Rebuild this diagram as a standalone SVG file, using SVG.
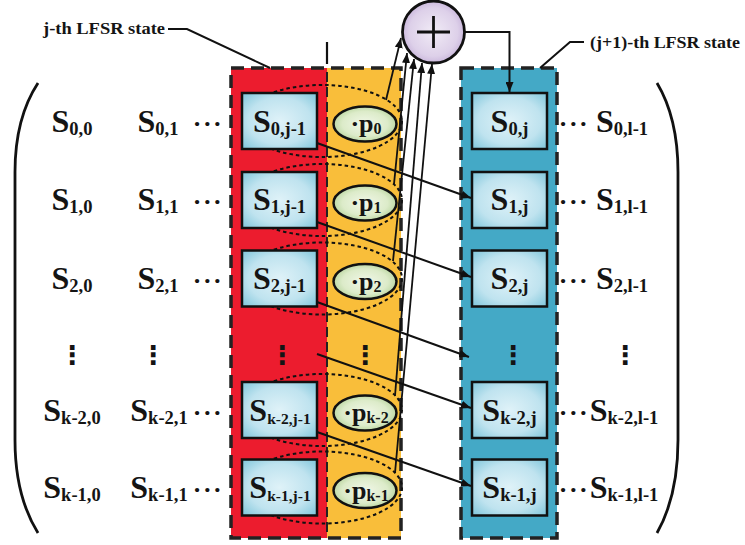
<svg xmlns="http://www.w3.org/2000/svg" width="745" height="545" viewBox="0 0 745 545">
<defs>
  <radialGradient id="gBox" cx="50%" cy="50%" r="70%">
    <stop offset="0" stop-color="#dff2f8"/>
    <stop offset="0.6" stop-color="#bfe3ef"/>
    <stop offset="1" stop-color="#7fc6db"/>
  </radialGradient>
  <radialGradient id="gEll" cx="50%" cy="50%" r="60%">
    <stop offset="0" stop-color="#f1f7e8"/>
    <stop offset="0.6" stop-color="#dcebc9"/>
    <stop offset="1" stop-color="#a9cb8c"/>
  </radialGradient>
  <radialGradient id="gXor" cx="50%" cy="50%" r="60%">
    <stop offset="0" stop-color="#f1ebf6"/>
    <stop offset="0.65" stop-color="#ddd0e9"/>
    <stop offset="1" stop-color="#bba4d2"/>
  </radialGradient>
  <marker id="ah" viewBox="0 0 10 8" refX="10" refY="4" markerWidth="10" markerHeight="8" markerUnits="userSpaceOnUse" orient="auto">
    <path d="M0,0 L10,4 L0,8 Z" fill="#111"/>
  </marker>
</defs>
<style>
  .t{font-family:"Liberation Serif","Times New Roman",serif;font-weight:bold;fill:#141414}
  .S{font-size:32px}
  .sub{font-size:18.5px}
  .subk{font-size:15.5px}
  .p{font-size:26px}
  .psub{font-size:16px}
  .lbl{font-size:17px}
  .dots{font-size:26px;letter-spacing:1.5px}
  .vd{font-family:"DejaVu Sans",sans-serif;font-weight:bold;font-size:26px;fill:#141414}
  .box{fill:url(#gBox);stroke:#111;stroke-width:2.5}
  .ell{fill:url(#gEll);stroke:#111;stroke-width:2.5}
  .dotell{fill:none;stroke:#111;stroke-width:2;stroke-dasharray:3.5 3}
  .panel{stroke:#222;stroke-width:3.5;stroke-dasharray:13 7}
  .conn{fill:none;stroke:#111;stroke-width:2;marker-end:url(#ah)}
  .thin{fill:none;stroke:#111;stroke-width:1.8;marker-end:url(#ah)}
  .lead{fill:none;stroke:#111;stroke-width:2}
  .paren{fill:none;stroke:#111;stroke-width:2.8}
</style>

<!-- matrix brackets -->
<g id="brackets">
  <path class="paren" d="M38,83 Q15,118 15,172 L15,440 Q15,496 38,533"/>
  <path class="paren" d="M657,83 Q678,118 678,172 L678,440 Q678,496 657,533"/>
</g>

<!-- panels -->
<g id="panel-j">
  <rect x="231" y="68" width="96" height="470" fill="#ec1c2e"/>
  <rect x="327" y="68" width="74" height="470" fill="#f9be3a"/>
  <rect x="231" y="68" width="170" height="470" fill="none" class="panel"/>
  <line x1="327" y1="42" x2="327" y2="64" stroke="#111" stroke-width="2.2"/>
  <line x1="327" y1="72" x2="327" y2="536" stroke="#222" stroke-width="2" stroke-dasharray="10 5"/>
</g>
<g id="panel-j1">
  <rect x="461" y="68" width="96" height="470" fill="#44a9c6" class="panel"/>
</g>

<!-- labels -->
<g id="label-j">
  <text class="t lbl" x="43" y="34" textLength="122" lengthAdjust="spacingAndGlyphs">j-th LFSR state</text>
  <path class="lead" d="M168,29 H187 L270,68"/>
</g>
<g id="label-j1">
  <text class="t lbl" x="590" y="48" textLength="150" lengthAdjust="spacingAndGlyphs">(j+1)-th LFSR state</text>
  <path class="lead" d="M584,42 H570 L540,68"/>
</g>

<!-- left matrix columns -->
<g id="col0">
  <text class="t S" x="72" y="132" text-anchor="middle">S<tspan class="sub" dy="3">0,0</tspan></text>
  <text class="t S" x="72" y="210" text-anchor="middle">S<tspan class="sub" dy="3">1,0</tspan></text>
  <text class="t S" x="72" y="289" text-anchor="middle">S<tspan class="sub" dy="3">2,0</tspan></text>
  <text class="vd" x="72" y="364" text-anchor="middle">⋮</text>
  <text class="t S" x="72" y="421" text-anchor="middle">S<tspan class="sub" dy="3">k-2,0</tspan></text>
  <text class="t S" x="72" y="498" text-anchor="middle">S<tspan class="sub" dy="3">k-1,0</tspan></text>
</g>
<g id="col1">
  <text class="t S" x="158" y="132" text-anchor="middle">S<tspan class="sub" dy="3">0,1</tspan></text>
  <text class="t S" x="158" y="210" text-anchor="middle">S<tspan class="sub" dy="3">1,1</tspan></text>
  <text class="t S" x="158" y="289" text-anchor="middle">S<tspan class="sub" dy="3">2,1</tspan></text>
  <text class="vd" x="153" y="364" text-anchor="middle">⋮</text>
  <text class="t S" x="159" y="421" text-anchor="middle">S<tspan class="sub" dy="3">k-2,1</tspan></text>
  <text class="t S" x="159" y="498" text-anchor="middle">S<tspan class="sub" dy="3">k-1,1</tspan></text>
</g>
<g id="dots-left">
  <text class="t dots" x="208" y="132" text-anchor="middle">···</text>
  <text class="t dots" x="208" y="210" text-anchor="middle">···</text>
  <text class="t dots" x="208" y="289" text-anchor="middle">···</text>
  <text class="t dots" x="208" y="421" text-anchor="middle">···</text>
  <text class="t dots" x="208" y="498" text-anchor="middle">···</text>
</g>

<!-- dotted groupings -->
<g id="groupings">
  <ellipse class="dotell" cx="322" cy="121" rx="80" ry="36"/>
  <ellipse class="dotell" cx="322" cy="200" rx="80" ry="36"/>
  <ellipse class="dotell" cx="322" cy="278.5" rx="80" ry="36"/>
  <ellipse class="dotell" cx="322" cy="410" rx="80" ry="36"/>
  <ellipse class="dotell" cx="322" cy="487.5" rx="80" ry="36"/>
</g>

<!-- j-th state cells -->
<g id="s0-j-1"><rect class="box" x="242" y="93" width="75" height="56"/><text class="t S" x="279.5" y="132" text-anchor="middle">S<tspan class="sub" dy="3">0,j-1</tspan></text></g>
<g id="s1-j-1"><rect class="box" x="242" y="172" width="75" height="56"/><text class="t S" x="279.5" y="210" text-anchor="middle">S<tspan class="sub" dy="3">1,j-1</tspan></text></g>
<g id="s2-j-1"><rect class="box" x="242" y="250.5" width="75" height="56"/><text class="t S" x="279.5" y="289" text-anchor="middle">S<tspan class="sub" dy="3">2,j-1</tspan></text></g>
<g id="dots-j-1"><text class="vd" x="282" y="364" text-anchor="middle">⋮</text></g>
<g id="sk2-j-1"><rect class="box" x="242" y="382" width="75" height="56"/><text class="t S" x="280" y="421" text-anchor="middle">S<tspan class="subk" dy="3">k-2,j-1</tspan></text></g>
<g id="sk1-j-1"><rect class="box" x="242" y="459.5" width="75" height="56"/><text class="t S" x="280" y="498" text-anchor="middle">S<tspan class="subk" dy="3">k-1,j-1</tspan></text></g>

<!-- coefficients -->
<g id="p0"><ellipse class="ell" cx="365" cy="124" rx="31.5" ry="17.5"/><text class="t p" x="366" y="132" text-anchor="middle">·p<tspan class="psub" dy="2">0</tspan></text></g>
<g id="p1"><ellipse class="ell" cx="365" cy="203" rx="31.5" ry="17.5"/><text class="t p" x="366" y="211" text-anchor="middle">·p<tspan class="psub" dy="2">1</tspan></text></g>
<g id="p2"><ellipse class="ell" cx="365" cy="281.5" rx="31.5" ry="17.5"/><text class="t p" x="366" y="289.5" text-anchor="middle">·p<tspan class="psub" dy="2">2</tspan></text></g>
<g id="pdots"><text class="vd" x="365" y="364" text-anchor="middle">⋮</text></g>
<g id="pk2"><ellipse class="ell" cx="365" cy="413" rx="31.5" ry="17.5"/><text class="t p" x="366" y="421" text-anchor="middle">·p<tspan class="psub" dy="2">k-2</tspan></text></g>
<g id="pk1"><ellipse class="ell" cx="365" cy="490.5" rx="31.5" ry="17.5"/><text class="t p" x="366" y="498.5" text-anchor="middle">·p<tspan class="psub" dy="2">k-1</tspan></text></g>

<!-- XOR -->
<g id="xor">
  <circle cx="433.5" cy="32" r="31" fill="url(#gXor)" stroke="#111" stroke-width="2.8"/>
  <line x1="417" y1="32" x2="450" y2="32" stroke="#111" stroke-width="2.8"/>
  <line x1="433.5" y1="16" x2="433.5" y2="48" stroke="#111" stroke-width="2.8"/>
</g>

<!-- (j+1)-th state cells -->
<g id="s0-j"><rect class="box" x="472" y="93" width="75" height="56"/><text class="t S" x="509.5" y="132" text-anchor="middle">S<tspan class="sub" dy="3">0,j</tspan></text></g>
<g id="s1-j"><rect class="box" x="472" y="172" width="75" height="56"/><text class="t S" x="509.5" y="210" text-anchor="middle">S<tspan class="sub" dy="3">1,j</tspan></text></g>
<g id="s2-j"><rect class="box" x="472" y="250.5" width="75" height="56"/><text class="t S" x="509.5" y="289" text-anchor="middle">S<tspan class="sub" dy="3">2,j</tspan></text></g>
<g id="dots-j"><text class="vd" x="513" y="364" text-anchor="middle">⋮</text></g>
<g id="sk2-j"><rect class="box" x="472" y="382" width="75" height="56"/><text class="t S" x="509.5" y="421" text-anchor="middle">S<tspan class="sub" dy="3">k-2,j</tspan></text></g>
<g id="sk1-j"><rect class="box" x="472" y="459.5" width="75" height="56"/><text class="t S" x="509.5" y="498" text-anchor="middle">S<tspan class="sub" dy="3">k-1,j</tspan></text></g>

<!-- right matrix column -->
<g id="col-last">
  <text class="t dots" x="574" y="132" text-anchor="middle">···</text>
  <text class="t S" x="622" y="132" text-anchor="middle">S<tspan class="sub" dy="3">0,l-1</tspan></text>
  <text class="t dots" x="574" y="210" text-anchor="middle">···</text>
  <text class="t S" x="622" y="210" text-anchor="middle">S<tspan class="sub" dy="3">1,l-1</tspan></text>
  <text class="t dots" x="574" y="289" text-anchor="middle">···</text>
  <text class="t S" x="622" y="289" text-anchor="middle">S<tspan class="sub" dy="3">2,l-1</tspan></text>
  <text class="vd" x="625" y="364" text-anchor="middle">⋮</text>
  <text class="t dots" x="574" y="421" text-anchor="middle">···</text>
  <text class="t S" x="624" y="421" text-anchor="middle">S<tspan class="sub" dy="3">k-2,l-1</tspan></text>
  <text class="t dots" x="574" y="498" text-anchor="middle">···</text>
  <text class="t S" x="624" y="498" text-anchor="middle">S<tspan class="sub" dy="3">k-1,l-1</tspan></text>
</g>

<!-- connectors -->
<g id="connectors">
  <path class="conn" d="M317,143 L471,198"/>
  <path class="conn" d="M317,222 L471,277"/>
  <path class="conn" d="M317,302 L469,357"/>
  <path class="conn" d="M317,354 L471,408"/>
  <path class="conn" d="M317,432 L471,486"/>
  <path class="thin" d="M386,100 L401,38"/>
  <path class="thin" d="M394,184 L407,53"/>
  <path class="thin" d="M393,261 L414,59"/>
  <path class="thin" d="M395,396 L422,63"/>
  <path class="thin" d="M395,473 L432,64"/>
  <path class="conn" d="M465,32 H509.5 V92"/>
</g>
</svg>
